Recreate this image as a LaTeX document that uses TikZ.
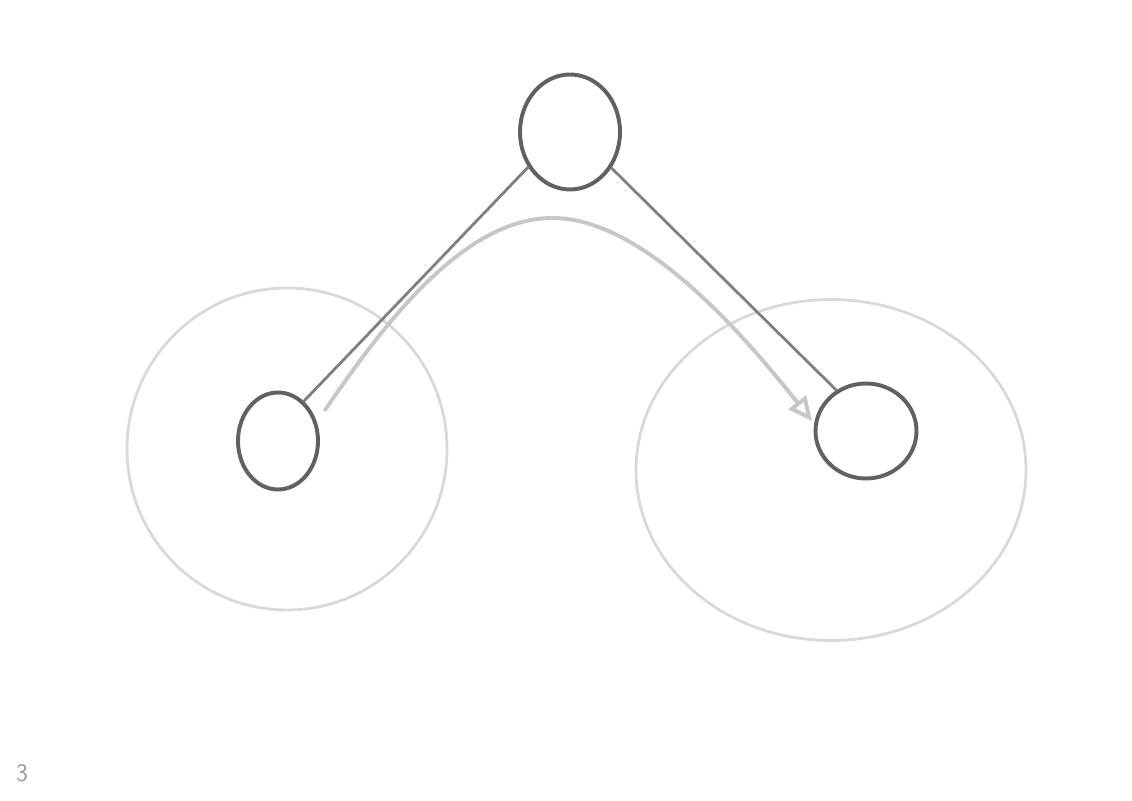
\documentclass[tikz,border=0pt]{standalone}
\usepackage{tikz}
\usetikzlibrary{shapes.geometric,arrows.meta}

\begin{document}
\begin{tikzpicture}[main_node/.style={ellipse,draw=black!62,line width=2.8pt,inner sep=0pt},
    halo_node/.style={ellipse,draw=black!15,line width=2pt,inner sep=0pt},
    edge_line/.style={draw=black!50,line width=2pt,line cap=round},
    flow_arrow/.style={draw=black!22,line width=2.8pt,line cap=round,-{Triangle[open,length=0.6cm,width=0.55cm]}}]

    \useasboundingbox (0,0) rectangle (28.3,20);

    \node[halo_node, minimum width=8cm, minimum height=8.05cm] (4) at (7.175, 8.775) {};
    \node[halo_node, minimum width=9.75cm, minimum height=8.525cm] (5) at (20.775, 8.25) {};

    \node[main_node, minimum width=2.5cm, minimum height=2.875cm] (1) at (14.25, 16.7) {};
    \node[main_node, minimum width=2cm, minimum height=2.425cm] (2) at (6.95, 8.975) {};
    \node[main_node, minimum width=2.525cm, minimum height=2.375cm] (3) at (21.65, 9.225) {};

    \coordinate (a) at (8.125, 9.75);
    \coordinate (b) at (20.3, 9.475);

    \draw[edge_line] (1.220) -- (2.57);
    \draw[edge_line] (1.319) -- (3.126);

    \draw[flow_arrow] (a) .. controls (9.5, 11.75) and (11.5, 14.5) .. (13.75, 14.55)
        .. controls (16, 14.6) and (18.5, 11.75) .. (b);

    \node[text=black!40, font=\sffamily\fontsize{18}{20}\selectfont] (6) at (0.55, 0.675) {3};

\end{tikzpicture}
\end{document}
